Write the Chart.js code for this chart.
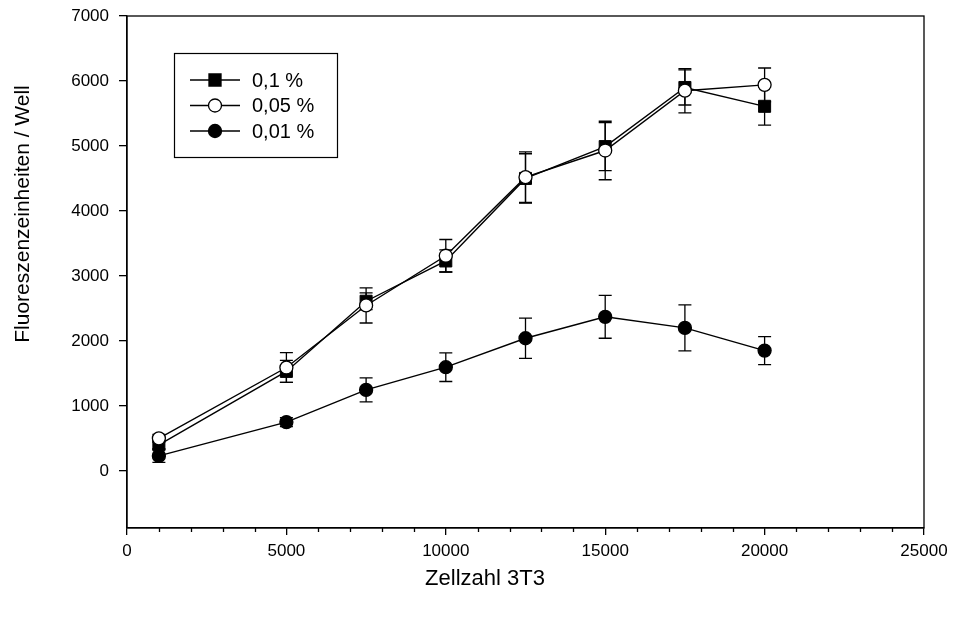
<!DOCTYPE html>
<html>
<head>
<meta charset="utf-8">
<script src="https://cdn.jsdelivr.net/npm/chart.js@4/dist/chart.umd.min.js"></script>
<style>
    body { margin: 0; background: #fff; }
    #wrap { width: 958px; height: 617px; }
</style>
</head>
<body>
<div id="wrap"><canvas id="chart" width="958" height="617"></canvas></div>
<script>
    // Data
    var cellCounts = [1000, 5000, 7500, 10000, 12500, 15000, 17500, 20000];

    var conc01 = [400, 1530, 2610, 3230, 4500, 4990, 5900, 5610];
    var conc01Err = [60, 170, 130, 170, 380, 370, 270, 290];

    var conc005 = [500, 1590, 2545, 3310, 4520, 4930, 5850, 5940];
    var conc005Err = [60, 230, 270, 250, 390, 450, 340, 260];

    var conc001 = [230, 750, 1245, 1595, 2040, 2370, 2200, 1850];
    var conc001Err = [100, 70, 185, 220, 310, 330, 355, 215];

    var seriesLabels = ["0,1 %", "0,05 %", "0,01 %"];
    var xTicks = [0, 5000, 10000, 15000, 20000, 25000];
    var yTicks = [0, 1000, 2000, 3000, 4000, 5000, 6000, 7000];
    var xTitle = "Zellzahl 3T3";
    var yTitle = "Fluoreszenzeinheiten / Well";

    var FONT = "'Liberation Sans', Arial, Helvetica, sans-serif";

    function toPoints(xs, ys, errs) {
        var pts = [];
        for (var i = 0; i < xs.length; i++) {
            pts.push({ x: xs[i], y: ys[i], err: errs[i] });
        }
        return pts;
    }

    // error bars, minor ticks, frame, titles and legend
    var extras = {
        id: 'extras',
        beforeDatasetsDraw: function (chart) {
            var ctx = chart.ctx;
            var xs = chart.scales.x, ys = chart.scales.y;
            ctx.save();
            ctx.strokeStyle = '#000';
            ctx.lineWidth = 1.3;
            chart.data.datasets.forEach(function (ds) {
                ds.data.forEach(function (p) {
                    var px = xs.getPixelForValue(p.x);
                    var top = ys.getPixelForValue(p.y + p.err);
                    var bot = ys.getPixelForValue(p.y - p.err);
                    ctx.beginPath();
                    ctx.moveTo(px, top); ctx.lineTo(px, bot);
                    ctx.moveTo(px - 6.5, top); ctx.lineTo(px + 6.5, top);
                    ctx.moveTo(px - 6.5, bot); ctx.lineTo(px + 6.5, bot);
                    ctx.stroke();
                });
            });
            ctx.restore();
        },
        afterDraw: function (chart) {
            var ctx = chart.ctx;
            var a = chart.chartArea;
            var xs = chart.scales.x;
            ctx.save();
            ctx.strokeStyle = '#000';
            ctx.lineWidth = 1.3;
            // frame
            ctx.strokeRect(a.left, a.top, a.right - a.left, a.bottom - a.top);
            // minor x ticks
            ctx.beginPath();
            for (var v = 1000; v < 25000; v += 1000) {
                if (v % 5000 === 0) continue;
                var px = Math.round(xs.getPixelForValue(v)) + 0.5;
                ctx.moveTo(px, a.bottom);
                ctx.lineTo(px, a.bottom + 4);
            }
            ctx.stroke();

            // axis titles
            ctx.fillStyle = '#000';
            ctx.textAlign = 'center';
            ctx.textBaseline = 'middle';
            ctx.font = '22px ' + FONT;
            ctx.fillText(xTitle, 485, 579);
            ctx.font = '21px ' + FONT;
            ctx.translate(23, 214);
            ctx.rotate(-Math.PI / 2);
            ctx.fillText(yTitle, 0, 0);
            ctx.setTransform(1, 0, 0, 1, 0, 0);

            // legend
            ctx.lineWidth = 1.2;
            ctx.strokeRect(174.5, 53.5, 163, 104);
            chart.data.datasets.forEach(function (ds, i) {
                var ly = 80 + i * 25.5;
                ctx.beginPath();
                ctx.lineWidth = 1.4;
                ctx.moveTo(190, ly); ctx.lineTo(240, ly);
                ctx.stroke();
                ctx.fillStyle = ds.pointBackgroundColor;
                ctx.strokeStyle = '#000';
                ctx.lineWidth = 1.3;
                Chart.helpers.drawPoint(ctx, {
                    pointStyle: ds.pointStyle,
                    radius: ds.pointRadius,
                    rotation: 0,
                    borderWidth: 1.3
                }, 215, ly);
                ctx.fillStyle = '#000';
                ctx.font = '20px ' + FONT;
                ctx.textAlign = 'left';
                ctx.textBaseline = 'middle';
                ctx.fillText(ds.label, 252, ly + 1);
            });
            ctx.restore();
        }
    };

    var ctx1 = document.getElementById('chart').getContext('2d');
    var myChart = new Chart(ctx1, {
        type: 'line',
        data: {
            datasets: [{
                label: seriesLabels[0],
                data: toPoints(cellCounts, conc01, conc01Err),
                borderColor: '#000',
                borderWidth: 1.4,
                pointStyle: 'rect',
                pointRadius: 8.5,
                pointBackgroundColor: '#000',
                pointBorderColor: '#000',
                pointBorderWidth: 1,
                order: 2
            }, {
                label: seriesLabels[1],
                data: toPoints(cellCounts, conc005, conc005Err),
                borderColor: '#000',
                borderWidth: 1.4,
                pointStyle: 'circle',
                pointRadius: 6.5,
                pointBackgroundColor: '#fff',
                pointBorderColor: '#000',
                pointBorderWidth: 1.3,
                order: 1
            }, {
                label: seriesLabels[2],
                data: toPoints(cellCounts, conc001, conc001Err),
                borderColor: '#000',
                borderWidth: 1.4,
                pointStyle: 'circle',
                pointRadius: 6.5,
                pointBackgroundColor: '#000',
                pointBorderColor: '#000',
                pointBorderWidth: 1.3,
                order: 0
            }]
        },
        options: {
            responsive: false,
            animation: false,
            layout: { padding: { left: 0, right: 34, top: 16, bottom: 0 } },
            plugins: {
                legend: { display: false },
                tooltip: { enabled: false }
            },
            scales: {
                x: {
                    type: 'linear',
                    min: 0,
                    max: 25000,
                    afterBuildTicks: function (scale) {
                        scale.ticks = xTicks.map(function (v) { return { value: v }; });
                    },
                    afterFit: function (scale) {
                        scale.height = 89;
                        scale.paddingLeft = 0;
                        scale.paddingRight = 0;
                    },
                    grid: { drawOnChartArea: false, drawTicks: true, tickLength: 7, color: '#000', lineWidth: 1.3 },
                    border: { display: true, color: '#000', width: 1.3 },
                    ticks: {
                        color: '#000',
                        padding: 6,
                        maxRotation: 0,
                        font: { family: FONT, size: 17 },
                        callback: function (v) { return String(v); }
                    }
                },
                y: {
                    type: 'linear',
                    min: -880,
                    max: 7000,
                    afterBuildTicks: function (scale) {
                        scale.ticks = yTicks.map(function (v) { return { value: v }; });
                    },
                    afterFit: function (scale) {
                        scale.width = 127;
                        scale.paddingTop = 0;
                        scale.paddingBottom = 0;
                    },
                    grid: { drawOnChartArea: false, drawTicks: true, tickLength: 8, color: '#000', lineWidth: 1.3 },
                    border: { display: true, color: '#000', width: 1.3 },
                    ticks: {
                        color: '#000',
                        padding: 10,
                        font: { family: FONT, size: 17 },
                        callback: function (v) { return String(v); }
                    }
                }
            }
        },
        plugins: [extras]
    });
</script>
</body>
</html>
